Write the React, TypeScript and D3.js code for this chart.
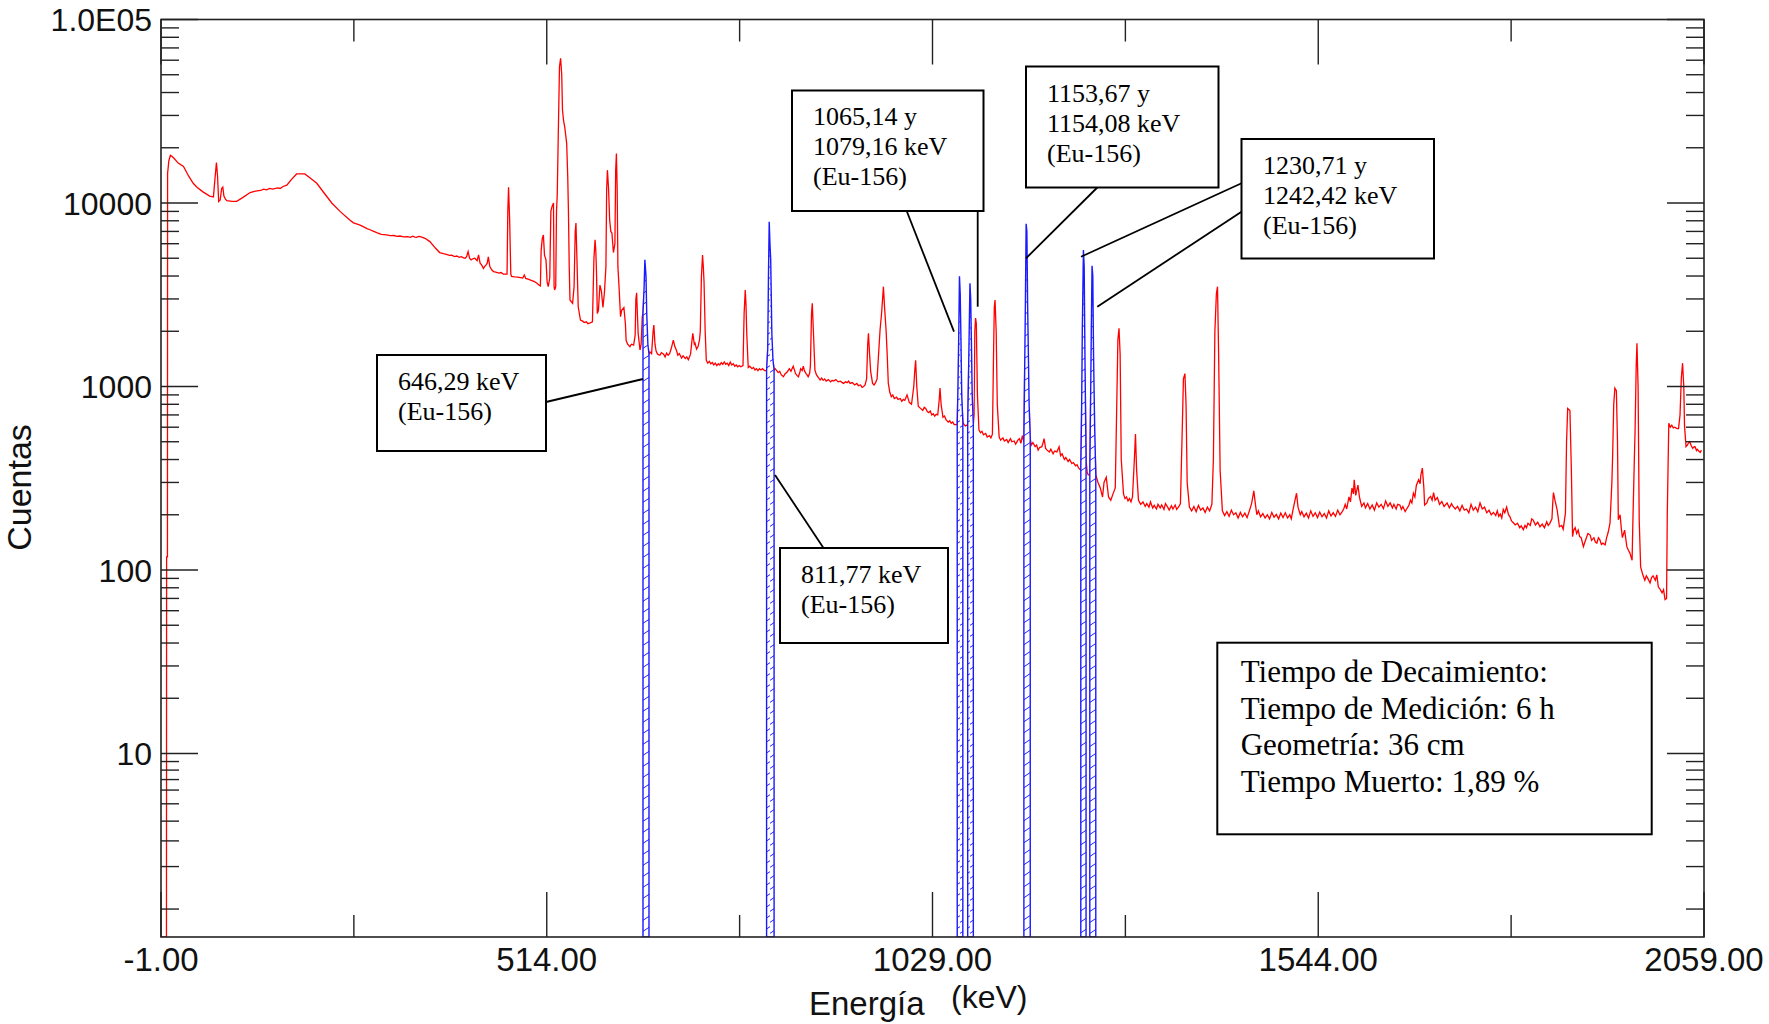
import React from 'react';
import * as d3 from 'd3';

// ---------- data ----------
const X_DOMAIN: [number, number] = [-1, 2059];
const Y_DOMAIN: [number, number] = [1, 100000];
const X_MAJOR_TICKS = [-1, 514, 1029, 1544, 2059];
const X_MINOR_TICKS = [256.5, 771.5, 1286.5, 1801.5];
const X_TICK_LABELS = ['-1.00', '514.00', '1029.00', '1544.00', '2059.00'];
const Y_MAJOR_TICKS = [10, 100, 1000, 10000, 100000];
const Y_TICK_LABELS = ['10', '100', '1000', '10000', '1.0E05'];
const Y_MINOR_MULTIPLIERS = [2, 3, 4, 5, 6, 7, 8, 9];
const Y_MINOR_DECADES = [10, 100, 1000, 10000];
const Y_MINOR_TICKS_LOW = [1.42, 2.42, 3.34, 4.28, 5.32, 6.32, 7.21, 8.12, 9.04];

// spectrum: [energy keV, counts]
const SPECTRUM: [number, number][] = [
  [-1, 1], [6.3, 1], [6.5, 118], [7.6, 118], [7.8, 14500], [9.5, 17000], [11.5, 18200], [13.5, 18000], [16, 17600],
  [22, 16500], [29, 15800], [36, 14000], [42, 12800], [47, 12200], [55, 11500], [64, 10900], [69, 10800], [71, 13500],
  [73, 16600], [74.5, 14000], [76, 10200], [78, 10400], [80, 12000], [81.5, 12200], [83, 10900], [85, 10500], [87, 10300],
  [94, 10200], [100, 10200], [108, 10700], [118, 11400], [125, 11600], [132, 11700], [136, 11900], [140, 11800], [144, 12000],
  [148, 11900], [155, 12100], [158, 12000], [162, 12300], [167, 12500], [173, 13400], [180, 14400], [191, 14400], [199, 13600],
  [207, 12800], [217, 11300], [227, 10000], [238, 9000], [251, 8080], [256, 7800], [260, 7700], [264, 7600], [269, 7430],
  [274, 7250], [278, 7150], [283, 7000], [287, 6890], [293, 6750], [300, 6700], [305, 6640], [310, 6650], [314, 6580],
  [318, 6610], [323, 6540], [328, 6550], [332, 6500], [335, 6600], [338, 6520], [340, 6500], [343, 6580], [345, 6550],
  [349, 6480], [352, 6400], [358, 6160], [365, 5700], [371, 5370], [376, 5300], [380, 5250], [384, 5180], [387, 5200],
  [391, 5100], [394, 5140], [397, 5060], [400, 5100], [403, 5020], [405, 5000], [407, 5100], [409, 5430], [411, 5000],
  [413, 4900], [416, 4980], [418, 5000], [421, 4850], [423, 5210], [425, 4700], [427, 4600], [429.5, 4400], [431, 4500],
  [433, 4600], [434.5, 4700], [436, 5090], [438, 4500], [441, 4300], [443, 4230], [446, 4200], [450, 4150], [453, 4180],
  [456, 4100], [461, 4100], [462, 9000], [463, 12200], [464.5, 8000], [466, 4100], [467, 3980], [471, 3960], [475, 3950],
  [479, 3920], [482, 3900], [484, 4050], [486, 3880], [490, 3830], [494, 3780], [497, 3740], [500, 3680], [504, 3560],
  [505.5, 3530], [506.5, 5500], [508, 6400], [509.5, 6700], [511, 5200], [513, 4900], [514.5, 3700], [516, 3500], [518, 3900],
  [519.5, 9000], [521, 9550], [523, 10000], [523.8, 3500], [524.5, 3360], [526, 3500], [527, 9000], [528, 11060],
  [529.5, 25000], [531, 55300], [532.5, 61500], [534, 50000], [535, 32100], [536.5, 28000], [538, 26000], [540.6, 21100],
  [542, 14000], [543, 8800], [544, 4500], [545, 2960], [548.5, 2840], [550.5, 3500], [552, 7000], [553, 7780], [554, 5500],
  [556, 2720], [559, 2300], [562, 2270], [564, 2230], [567, 2250], [569, 2200], [572, 2220], [575, 2250], [577, 5000],
  [578.5, 6310], [579.5, 5500], [580.5, 4070], [581.5, 2500], [583, 2600], [585, 3570], [587, 3300], [589, 2700], [591, 3240],
  [593, 4500], [594, 12000], [595, 15100], [596.5, 12000], [598, 8080], [599.5, 7000], [601, 6860], [603, 5370], [605, 6000],
  [606, 15000], [607, 18600], [608, 12000], [609, 4500], [610.5, 3500], [612.5, 2400], [614, 2600], [617, 2690], [619, 2200],
  [620, 1780], [622, 1700], [625, 1650], [627, 1700], [630, 1680], [632, 1900], [633, 3000], [634, 3240], [635, 2500],
  [636, 1950], [638.5, 1580], [640, 1700], [641.5, 2400],
  [642.5, 2500], [644, 3500], [645, 4900], [646.5, 4000], [647.5, 2500], [649, 1700], [650.5, 1500],
  [652, 1540], [654, 1510], [656, 2000], [657, 2160], [658.5, 1700], [660, 1560], [662, 1500], [665, 1480], [667, 1530],
  [670, 1500], [672, 1450], [674, 1520], [676, 1480], [678, 1510], [680, 1600], [683, 1790], [685, 1650], [687, 1580],
  [689, 1480], [691, 1510], [694, 1430], [696, 1470], [699, 1420], [701, 1450], [703, 1400], [706, 1500], [708, 1800],
  [709, 1950], [711, 1700], [712, 1720], [714, 1600], [716, 1650], [718, 1800], [719, 2010], [720.5, 4000], [722, 5210],
  [723, 4500], [724, 3700], [725.5, 2000], [727, 1390], [729, 1340], [731, 1370], [733, 1330], [735, 1350], [737, 1310],
  [739, 1340], [741, 1300], [743, 1330], [745, 1310], [747, 1350], [749, 1320], [751, 1360], [753, 1320], [755, 1340],
  [757, 1300], [759, 1360], [761, 1310], [763, 1330], [765, 1290], [767, 1310], [769, 1280], [771, 1300], [773, 1280],
  [776, 1300], [777.5, 2500], [779, 3360], [780, 2800], [781, 1950], [783, 1270], [785, 1290], [788, 1250], [790, 1270],
  [792, 1230], [794, 1250], [796, 1220], [798, 1250], [800, 1230], [802, 1250], [805, 1220],
  [807.5, 1220], [809, 1600], [810, 4000], [811, 7900], [812, 6000], [813, 4900], [814.5, 1950], [816, 1400], [817.5, 1230],
  [819, 1250], [821, 1220], [823, 1190], [825, 1210], [827, 1160], [830, 1130], [832, 1170], [835, 1200], [838, 1250],
  [840, 1210], [843, 1290], [845, 1220], [846, 1180], [848, 1150], [850, 1130], [852, 1200], [853, 1250], [855, 1220],
  [856.5, 1290], [858, 1220], [860, 1180], [862, 1150], [863, 1130], [865, 1180], [866, 1300], [867.5, 2500], [868.5, 2840],
  [870, 2000], [872, 1230], [874, 1160], [876, 1130], [879, 1085], [881, 1110], [883, 1080], [885, 1100], [887, 1070],
  [890, 1090], [893, 1060], [895, 1080], [897, 1070], [900, 1090], [903, 1060], [906, 1070], [910, 1040], [913, 1060],
  [915, 1050], [917, 1070], [919, 1040], [922, 1050], [925, 1020], [928, 1040], [930, 1010], [933, 1020], [935, 990],
  [937, 1000], [939, 1020], [941, 1100], [942.5, 1700], [943.5, 1950], [945, 1500], [946.5, 1200], [949, 1040], [951, 1020],
  [953, 1050], [955, 1100], [957, 1500], [959, 2040], [961, 2500], [963.5, 3500], [965, 2700], [967, 2040], [968.5, 1500],
  [970, 1040], [972, 930], [974, 880], [976, 900], [978, 860], [981, 875], [983, 850], [986, 860], [988, 830], [990, 850],
  [992, 840], [995, 900], [998, 820], [1001, 800], [1004, 1000], [1005.5, 1250], [1006.5, 1390], [1008, 1000], [1010, 780],
  [1013, 760], [1016, 740], [1018, 770], [1020, 760], [1022, 730], [1024, 720], [1026, 735], [1028, 700], [1030, 710],
  [1032, 690], [1034, 705], [1036, 700], [1038, 850], [1039, 980], [1040.5, 800], [1043, 680], [1045, 690], [1047, 660],
  [1050, 640], [1052, 650], [1054, 630], [1056, 640], [1058, 620],
  [1062, 620], [1063, 1000], [1064, 1860], [1065, 3990], [1066, 3200], [1067, 1800], [1068, 900], [1069.5, 640],
  [1071, 620], [1073, 610],
  [1076, 620], [1077, 1100], [1078, 2000], [1079, 3650], [1080, 3000], [1081, 1700], [1082, 900], [1083.5, 620],
  [1084.5, 700], [1085.5, 2000], [1086.5, 2360], [1087.5, 2200], [1089, 900], [1091, 580], [1093, 560], [1095, 570],
  [1097, 545], [1100, 555], [1102, 530], [1105, 540], [1107, 525], [1109, 550], [1110.5, 1500], [1111.5, 2700],
  [1112.5, 2960], [1114, 2000], [1115.5, 800], [1118, 530], [1120, 510], [1123, 525], [1125, 505], [1128, 515], [1130, 495],
  [1133, 520], [1135, 500], [1138, 505], [1140, 485], [1143, 510], [1145, 520], [1147, 490], [1149, 540],
  [1151, 500], [1152, 1200], [1153, 2780], [1154, 7700], [1155, 7000], [1156, 2780], [1157, 1500], [1158, 800], [1159.5, 520],
  [1161, 480], [1163, 495], [1166, 470], [1168, 480], [1170, 450], [1172, 465], [1175, 470], [1177, 500], [1178, 520],
  [1180, 460], [1182, 450], [1185, 440], [1187, 455], [1190, 430], [1192, 445], [1195, 440], [1197, 460], [1198, 470],
  [1200, 420], [1202, 430], [1205, 400], [1207, 410], [1210, 390], [1212, 400], [1215, 380], [1217, 385], [1220, 370],
  [1222, 375], [1224, 360],
  [1227, 350], [1228, 700], [1229, 2000], [1230.5, 5540], [1231.5, 4500], [1232.5, 1500], [1234, 400],
  [1235.5, 340], [1237, 330],
  [1239, 330], [1240, 800], [1241, 2000], [1242, 4550], [1243, 4000], [1244, 1500], [1245.5, 600], [1247, 330],
  [1250, 300], [1253, 280], [1256, 250], [1258, 300], [1261, 320], [1264, 250], [1267, 240], [1270, 260], [1273, 280],
  [1275, 800], [1276.5, 1800], [1278, 2075], [1279.5, 1500], [1281, 400], [1284, 260], [1286, 245], [1288, 250], [1290, 238],
  [1292, 245], [1294, 235], [1296, 250], [1298.5, 400], [1300, 550], [1301.5, 350], [1304, 240], [1307, 228], [1310, 235],
  [1313, 222], [1315, 230], [1318, 220], [1320, 235], [1323, 218], [1325, 225], [1328, 215], [1330, 228], [1333, 218],
  [1335, 226], [1338, 214], [1340, 230], [1343, 220], [1345, 212], [1348, 224], [1350, 215], [1353, 226], [1355, 214],
  [1358, 222], [1360, 230], [1362.5, 600], [1364, 1100], [1366, 1175], [1367.5, 800], [1369, 300], [1372, 220], [1375, 210],
  [1378, 222], [1381, 208], [1384, 225], [1387, 212], [1390, 218], [1393, 206], [1396, 220], [1399, 210], [1402, 228],
  [1404, 400], [1406, 2000], [1408, 3200], [1409.5, 3500], [1411, 1500], [1413, 350], [1416, 210], [1419, 198], [1422, 208],
  [1425, 196], [1428, 212], [1431, 200], [1434, 205], [1437, 192], [1440, 206], [1443, 195], [1446, 204], [1449, 193],
  [1452, 210], [1455, 230], [1458, 270], [1460, 230], [1462, 200], [1464, 210], [1467, 195], [1470, 203], [1473, 192],
  [1476, 200], [1479, 190], [1482, 206], [1485, 194], [1488, 201], [1491, 190], [1494, 204], [1497, 193], [1500, 205],
  [1503, 192], [1506, 200], [1508, 190], [1510, 210], [1513, 240], [1515, 262], [1517, 220], [1520, 200], [1522, 208],
  [1525, 195], [1528, 204], [1531, 192], [1534, 210], [1537, 196], [1540, 205], [1543, 193], [1546, 207], [1549, 195],
  [1552, 203], [1555, 192], [1558, 210], [1561, 197], [1564, 205], [1567, 196], [1570, 212], [1573, 200], [1576, 208],
  [1578, 215], [1580, 228], [1582, 215], [1585, 250], [1587, 235], [1589, 280], [1591, 260], [1592, 310], [1594, 255],
  [1597, 290], [1599, 250], [1600, 240], [1602, 222], [1605, 232], [1607, 218], [1610, 230], [1613, 215], [1616, 226],
  [1619, 212], [1622, 232], [1625, 220], [1628, 228], [1631, 216], [1634, 238], [1637, 222], [1640, 232], [1643, 218],
  [1645, 228], [1648, 215], [1650, 228], [1653, 226], [1655, 214], [1657, 222], [1660, 208], [1662, 215], [1665, 225],
  [1667, 240], [1669, 232], [1671, 262], [1673, 250], [1675, 290], [1678, 310], [1680, 295], [1681, 330], [1683, 359],
  [1685, 280], [1686, 226], [1689, 232], [1691, 245], [1694, 252], [1696, 240], [1698, 264], [1700, 240], [1703, 248],
  [1706, 228], [1709, 236], [1712, 222], [1716, 232], [1719, 218], [1722, 230], [1724, 222], [1727, 215], [1730, 222],
  [1733, 210], [1736, 225], [1739, 212], [1742, 215], [1745, 205], [1748, 228], [1751, 212], [1754, 220], [1757, 208],
  [1760, 232], [1763, 215], [1766, 220], [1769, 205], [1772, 212], [1775, 200], [1778, 206], [1781, 198], [1783, 210],
  [1785, 196], [1787, 202], [1789, 192], [1791, 214], [1793, 205], [1795.5, 220], [1798, 200], [1800, 195], [1802, 185],
  [1804.5, 181], [1807, 176], [1810, 180], [1813, 170], [1815, 174], [1817.8, 166], [1820, 175], [1822, 170], [1824, 180],
  [1827, 175], [1829, 190], [1831, 187], [1834, 176], [1837, 182], [1840, 172], [1843, 178], [1846, 170], [1849, 183],
  [1851, 175], [1853, 179], [1856, 190], [1857, 230], [1858, 264], [1860, 240], [1863, 212], [1866, 172], [1869, 175],
  [1871, 167], [1874, 204], [1875.5, 500], [1877, 759], [1880, 740], [1881, 500], [1882, 339], [1883.5, 152], [1885, 165],
  [1887, 170], [1889, 158], [1891, 165], [1893, 152], [1895, 150], [1898, 134], [1900, 142], [1902, 150], [1904, 158],
  [1907, 155], [1909, 145], [1912, 150], [1914, 142], [1916, 140], [1918, 150], [1920, 146], [1922, 138], [1924, 140],
  [1927, 137], [1929, 150], [1931, 160], [1933.5, 180], [1936, 300], [1937, 415], [1938.5, 800], [1940, 980], [1942, 950],
  [1943.5, 500], [1944.6, 188], [1947, 200], [1948.5, 170], [1950, 150], [1953, 165], [1956, 134], [1958, 128], [1960, 124],
  [1963, 113], [1964, 180], [1966, 400], [1967, 580], [1968.5, 1300], [1969.5, 1720], [1971, 1000], [1972.5, 188],
  [1974.4, 104], [1977, 95], [1980, 88], [1982, 93], [1984, 90], [1987, 85], [1989, 91], [1991, 93], [1994, 88], [1996, 94],
  [1998, 81], [2000, 79], [2003, 75], [2005, 78], [2007, 69], [2009, 70], [2010, 204], [2012, 630], [2014, 600],
  [2016, 615], [2018, 595], [2020, 600], [2023, 590], [2025, 590], [2027, 700], [2028.7, 1110], [2030.4, 1340], [2032, 1000],
  [2033, 610], [2035, 470], [2037, 480], [2038, 490], [2040, 500], [2042, 475], [2044, 460], [2046, 470], [2047, 470],
  [2049, 448], [2050, 455], [2052, 445], [2054, 437], [2055.5, 450],
];

// regions of interest (Eu-156 peaks), keV
const ROIS: [number, number][] = [
  [642.5, 650.5], [807.5, 817.5], [1062, 1069.5], [1076, 1083.5], [1151, 1159.5], [1227, 1234], [1239, 1247],
];

const ANNOT_646 = ['646,29 keV', '(Eu-156)'];
const ANNOT_811 = ['811,77 keV', '(Eu-156)'];
const ANNOT_1065 = ['1065,14 y', '1079,16 keV', '(Eu-156)'];
const ANNOT_1153 = ['1153,67 y', '1154,08 keV', '(Eu-156)'];
const ANNOT_1230 = ['1230,71 y', '1242,42 keV', '(Eu-156)'];
const INFO_LINES = ['Tiempo de Decaimiento:', 'Tiempo de Medición: 6 h', 'Geometría: 36 cm', 'Tiempo Muerto: 1,89 %'];
const X_TITLE = 'Energía';
const X_UNIT = '(keV)';
const Y_TITLE = 'Cuentas';

// ---------- component ----------
export default function App() {
  const W = 1769, H = 1024;
  const L = 161, R = 1704, T = 19.5, B = 937;
  const x = d3.scaleLinear().domain(X_DOMAIN).range([L, R]);
  const y = d3.scaleLog().domain(Y_DOMAIN).range([B, T]);
  const line = d3.line<[number, number]>().x(d => x(d[0])).y(d => y(Math.max(1, d[1])));
  const area = d3.area<[number, number]>().x(d => x(d[0])).y0(B).y1(d => y(Math.max(1, d[1])));

  const axisFont = 'Liberation Sans, Arial, sans-serif';
  const serif = 'Liberation Serif, Times New Roman, serif';

  // clip for the red spectrum: plot area minus ROIs
  const clipRects: [number, number][] = [];
  let prev = L;
  ROIS.forEach(([a, b]) => {
    clipRects.push([prev, x(a)]);
    prev = x(b);
  });
  clipRects.push([prev, R]);

  const yMinor: number[] = [];
  Y_MINOR_DECADES.forEach(d => Y_MINOR_MULTIPLIERS.forEach(k => yMinor.push(k * d)));
  Y_MINOR_TICKS_LOW.forEach(v => yMinor.push(v));

  const boxes = [
    { lines: ANNOT_646, x: 377, y: 355, w: 169, h: 96, tx: 398, ty: 390 },
    { lines: ANNOT_811, x: 780, y: 548, w: 168, h: 95, tx: 801, ty: 583 },
    { lines: ANNOT_1065, x: 792, y: 90.5, w: 191.5, h: 120.5, tx: 813, ty: 125 },
    { lines: ANNOT_1153, x: 1026, y: 66.5, w: 192.5, h: 121, tx: 1047, ty: 101.5 },
    { lines: ANNOT_1230, x: 1241.5, y: 139, w: 192.5, h: 119.5, tx: 1263, ty: 173.5 },
  ];
  const leaders: [number, number, number, number][] = [
    [546, 402, 643, 379],
    [823.5, 548, 775, 475],
    [906.7, 211, 954, 331.7],
    [977.7, 211, 977.7, 306.7],
    [1097.3, 187.5, 1026, 258.3],
    [1241.5, 183.3, 1081, 256.7],
    [1241.5, 211.7, 1097.3, 306.7],
  ];

  return (
    <svg width={W} height={H} style={{ position: 'absolute', left: 0, top: 0, display: 'block', background: '#fff' }}>
      <defs>
        <clipPath id="redclip">
          {clipRects.map(([a, b], i) => (
            <rect key={i} x={a} y={T} width={Math.max(0, b - a)} height={B - T} />
          ))}
        </clipPath>
        <clipPath id="plotclip">
          <rect x={L} y={T} width={R - L} height={B - T} />
        </clipPath>
        <pattern id="hatch" patternUnits="userSpaceOnUse" width={10} height={11}>
          <path d="M-1,10 L11,2" stroke="#1f1fff" strokeWidth={1} />
        </pattern>
      </defs>
      <rect x={0} y={0} width={W} height={H} fill="#fff" />

      {/* spectrum */}
      <path d={line(SPECTRUM) || ''} fill="none" stroke="#ff0000" strokeWidth={1.3} clipPath="url(#redclip)" />
      <g clipPath="url(#plotclip)">
        {ROIS.map(([a, b], i) => {
          const pts = SPECTRUM.filter(d => d[0] >= a && d[0] <= b);
          return (
            <path key={i} d={area(pts) || ''} fill="url(#hatch)" stroke="#1a1aff" strokeWidth={1.4} />
          );
        })}
      </g>

      {/* frame */}
      <rect x={L} y={T} width={R - L} height={B - T} fill="none" stroke="#222" strokeWidth={1.6} />

      {/* x ticks */}
      {X_MAJOR_TICKS.map((v, i) => (
        <g key={'xm' + i}>
          <line x1={x(v)} x2={x(v)} y1={B} y2={B - 45} stroke="#222" strokeWidth={1.4} />
          <line x1={x(v)} x2={x(v)} y1={T} y2={T + 45} stroke="#222" strokeWidth={1.4} />
          <text x={x(v)} y={971} textAnchor="middle" fontFamily={axisFont} fontSize={33} fill="#111">
            {X_TICK_LABELS[i]}
          </text>
        </g>
      ))}
      {X_MINOR_TICKS.map((v, i) => (
        <g key={'xn' + i}>
          <line x1={x(v)} x2={x(v)} y1={B} y2={B - 22} stroke="#222" strokeWidth={1.4} />
          <line x1={x(v)} x2={x(v)} y1={T} y2={T + 22} stroke="#222" strokeWidth={1.4} />
        </g>
      ))}

      {/* y ticks */}
      {Y_MAJOR_TICKS.map((v, i) => (
        <g key={'ym' + i}>
          <line x1={L} x2={L + 37} y1={y(v)} y2={y(v)} stroke="#222" strokeWidth={1.4} />
          <line x1={R - 37} x2={R} y1={y(v)} y2={y(v)} stroke="#222" strokeWidth={1.4} />
          <text x={152} y={y(v) + 11.5} textAnchor="end" fontFamily={axisFont} fontSize={32} fill="#111">
            {Y_TICK_LABELS[i]}
          </text>
        </g>
      ))}
      {yMinor.map((v, i) => (
        <g key={'yn' + i}>
          <line x1={L} x2={L + 18} y1={y(v)} y2={y(v)} stroke="#222" strokeWidth={1.4} />
          <line x1={R - 18} x2={R} y1={y(v)} y2={y(v)} stroke="#222" strokeWidth={1.4} />
        </g>
      ))}

      {/* axis titles */}
      <text transform="translate(31,487.5) rotate(-90)" textAnchor="middle" fontFamily={axisFont} fontSize={34} fill="#111">
        {Y_TITLE}
      </text>
      <text x={809} y={1015} fontFamily={axisFont} fontSize={33} fill="#111">{X_TITLE}</text>
      <text x={951} y={1008} fontFamily={axisFont} fontSize={32} fill="#111">{X_UNIT}</text>

      {/* leaders */}
      {leaders.map(([x1, y1, x2, y2], i) => (
        <line key={'ld' + i} x1={x1} y1={y1} x2={x2} y2={y2} stroke="#000" strokeWidth={1.8} />
      ))}

      {/* annotation boxes */}
      {boxes.map((b, i) => (
        <g key={'bx' + i}>
          <rect x={b.x} y={b.y} width={b.w} height={b.h} fill="#fff" stroke="#000" strokeWidth={2} />
          {b.lines.map((t, j) => (
            <text key={j} x={b.tx} y={b.ty + j * 30} fontFamily={serif} fontSize={26} fill="#000">{t}</text>
          ))}
        </g>
      ))}

      {/* info box */}
      <rect x={1217.3} y={642.7} width={434.4} height={191.6} fill="#fff" stroke="#000" strokeWidth={2} />
      {INFO_LINES.map((t, j) => (
        <text key={'inf' + j} x={1240.7} y={682 + j * 36.5} fontFamily={serif} fontSize={31} fill="#000">{t}</text>
      ))}
    </svg>
  );
}
